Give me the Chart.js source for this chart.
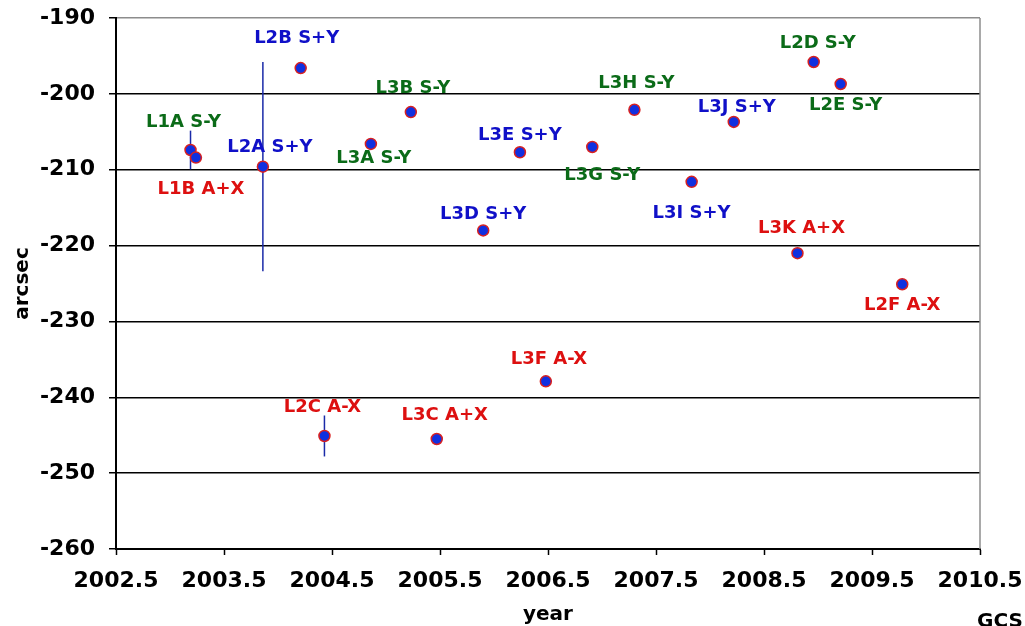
<!DOCTYPE html>
<html>
<head>
<meta charset="utf-8">
<script src="https://cdn.jsdelivr.net/npm/chart.js@4"></script>
<style>
  html, body { margin: 0; padding: 0; background: #fff; }
  #wrap { width: 1025px; height: 626px; position: relative; }
</style>
</head>
<body>
<div id="wrap"><canvas id="c"></canvas></div>
<script>
// ---- data ----
const names  = ["L1A S-Y","L1B A+X","L2A S+Y","L2B S+Y","L2C A-X","L3A S-Y","L3B S-Y","L3C A+X","L3D S+Y","L3E S+Y",
                "L3F A-X","L3G S-Y","L3H S-Y","L3I S+Y","L3J S+Y","L3K A+X","L2D S-Y","L2E S-Y","L2F A-X"];
const years  = [2003.19,2003.24,2003.86,2004.21,2004.43,2004.86,2005.23,2005.47,2005.90,2006.24,
                2006.48,2006.91,2007.30,2007.83,2008.22,2008.81,2008.96,2009.21,2009.78];
const arcsec = [-207.4,-208.4,-209.6,-196.6,-245.1,-206.6,-202.4,-245.5,-218.0,-207.7,
                -237.9,-207.0,-202.1,-211.6,-203.7,-221.0,-195.8,-198.7,-225.1];
// error bars (half-widths, arcsec); null = none
const errHalf = [2.55,null,13.8,null,2.7,null,null,null,null,null,
                 null,null,null,null,null,null,null,null,null];
const yTickValues = [-260,-250,-240,-230,-220,-210,-200,-190];
const xTickValues = [2002.5,2003.5,2004.5,2005.5,2006.5,2007.5,2008.5,2009.5,2010.5];
const xTickLabels = ["2002.5","2003.5","2004.5","2005.5","2006.5","2007.5","2008.5","2009.5","2010.5"];

// ---- layout of labels (pixel offsets from each point) ----
const labelDx = [-7,5,7,-4,-2,3,2,8,0,0,3,10,2,0,3,4,4,5,0];
const labelDy = [-28,32,-19,-30,-29,14,-24,-24,-16,-17,-22,28,-26,31,-15,-25,-19,21,21];

const GREEN = '#0b6b18', BLUE = '#1010c8', RED = '#dd1010';
function labelColor(n) {
  if (n.indexOf('S-Y') >= 0) return GREEN;
  if (n.indexOf('S+Y') >= 0) return BLUE;
  return RED;
}

const errorBarPlugin = {
  id: 'errbars',
  beforeDatasetsDraw(chart) {
    const {ctx, scales: {x, y}} = chart;
    ctx.save();
    ctx.strokeStyle = '#1a2aa8';
    ctx.lineWidth = 1.5;
    years.forEach((yr, i) => {
      if (errHalf[i] == null) return;
      const px = x.getPixelForValue(yr);
      ctx.beginPath();
      ctx.moveTo(px, y.getPixelForValue(arcsec[i] + errHalf[i]));
      ctx.lineTo(px, y.getPixelForValue(arcsec[i] - errHalf[i]));
      ctx.stroke();
    });
    ctx.restore();
  }
};

const framePlugin = {
  id: 'frame',
  beforeDatasetsDraw(chart) {
    const {ctx, chartArea: a} = chart;
    ctx.save();
    ctx.strokeStyle = '#8c8c8c';
    ctx.lineWidth = 1.5;
    ctx.beginPath();
    ctx.moveTo(a.right, a.top);
    ctx.lineTo(a.right, a.bottom);
    ctx.stroke();
    ctx.restore();
  },
  afterDraw(chart) {
    const {ctx} = chart;
    ctx.save();
    ctx.font = 'bold 20px "DejaVu Sans"';
    ctx.fillStyle = '#000';
    ctx.textAlign = 'left';
    ctx.textBaseline = 'top';
    ctx.fillText('GCS', 977, 612);
    ctx.restore();
  }
};

const labelPlugin = {
  id: 'ptlabels',
  afterDatasetsDraw(chart) {
    const {ctx} = chart;
    const meta = chart.getDatasetMeta(0);
    ctx.save();
    ctx.font = 'bold 18px "DejaVu Sans"';
    ctx.textAlign = 'center';
    ctx.textBaseline = 'middle';
    meta.data.forEach((el, i) => {
      ctx.fillStyle = labelColor(names[i]);
      ctx.fillText(names[i], el.x + labelDx[i], el.y + labelDy[i]);
    });
    ctx.restore();
  }
};

const tickFont = {family: '"DejaVu Sans"', weight: 'bold', size: 22};
const titleFont = {family: '"DejaVu Sans"', weight: 'bold', size: 20};

new Chart(document.getElementById('c'), {
  type: 'scatter',
  data: {
    datasets: [{
      data: years.map((yr, i) => ({x: yr, y: arcsec[i]})),
      backgroundColor: '#1030e0',
      borderColor: '#d82020',
      borderWidth: 1.5,
      pointRadius: 5.5,
      pointHoverRadius: 5.5
    }]
  },
  options: {
    responsive: true,
    maintainAspectRatio: false,
    animation: false,
    events: [],
    layout: {padding: {left: 0, top: 18, right: 45, bottom: 0}},
    plugins: {legend: {display: false}, tooltip: {enabled: false}, title: {display: false}},
    scales: {
      x: {
        type: 'linear',
        min: 2002.5, max: 2010.5,
        afterBuildTicks: s => { s.ticks = xTickValues.map(v => ({value: v})); },
        afterFit: s => { s.height = 77; s.paddingLeft = 0; s.paddingRight = 0; },
        ticks: {
          font: tickFont, color: '#000', padding: 13, maxRotation: 0, autoSkip: false,
          callback: (v, i) => xTickLabels[i]
        },
        grid: {drawOnChartArea: false, drawTicks: true, tickLength: 6, tickColor: '#000', tickWidth: 1.5},
        border: {color: '#000', width: 2},
        title: {display: true, text: 'year', font: titleFont, color: '#000', padding: {top: 0, bottom: -1}}
      },
      y: {
        min: -260, max: -190,
        afterBuildTicks: s => { s.ticks = yTickValues.map(v => ({value: v})); },
        afterFit: s => { s.width = 116; s.paddingTop = 0; s.paddingBottom = 0; },
        ticks: {font: tickFont, color: '#000', padding: 14, callback: v => String(v)},
        grid: {
          color: c => (c.tick && c.tick.value === -190) ? '#8c8c8c' : '#000',
          lineWidth: 1.5, tickLength: 7, tickColor: '#000', tickWidth: 1.5
        },
        border: {color: '#000', width: 2},
        title: {display: true, text: 'arcsec', font: titleFont, color: '#000', padding: {top: 11, bottom: 0}}
      }
    }
  },
  plugins: [errorBarPlugin, framePlugin, labelPlugin]
});
</script>
</body>
</html>
